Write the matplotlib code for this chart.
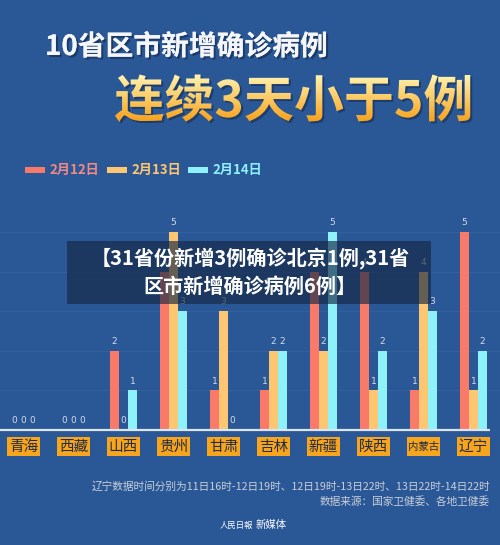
import numpy as np
import matplotlib.pyplot as plt
import matplotlib.patheffects as pe
from matplotlib.patches import Rectangle, PathPatch
from matplotlib.textpath import TextPath
from matplotlib.font_manager import FontProperties
from matplotlib.transforms import Affine2D

plt.rcParams['font.family'] = ['Noto Sans CJK SC', 'DejaVu Sans']

# data
provinces = ['青海', '西藏', '山西', '贵州', '甘肃', '吉林', '新疆', '陕西', '内蒙古', '辽宁']
feb12 = [0, 0, 2, 4, 1, 1, 4, 4, 1, 5]
feb13 = [0, 0, 0, 5, 3, 2, 2, 1, 4, 1]
feb14 = [0, 0, 1, 3, 0, 2, 5, 2, 3, 2]
series_names = ['2月12日', '2月13日', '2月14日']

bg = '#2a5796'
colors = ['#f97a68', '#fdc670', '#8ef2fb']
label_col = '#d5dbe3'

W, H = 500, 545
fig = plt.figure(figsize=(W / 100, H / 100), dpi=100, facecolor=bg)

# chart axes: baseline at 430px, 39.6px per unit, group spacing 50px
unit = 39.6
ymax = 6
ax_h = ymax * unit
ax = fig.add_axes([0, 1 - 430 / H, 1, ax_h / H])
ax.set_facecolor('none')
ax.set_xlim(-23.5 / 50, (W - 23.5) / 50)
ax.set_ylim(0, ymax)
for s in ax.spines.values():
    s.set_visible(False)
ax.set_xticks([])
ax.set_yticks([])

# faint grid
for v in range(1, 6):
    ax.axhline(v, color='#335f9d', lw=0.8, zorder=0)

x = np.arange(len(provinces))
bw = 0.18
for k, vals in enumerate([feb12, feb13, feb14]):
    xs = x + (k - 1) * bw
    ax.bar(xs, vals, width=bw, color=colors[k], zorder=2)
    for xi, v in zip(xs, vals):
        ax.text(xi, v + 0.12, str(v), ha='center', va='bottom', fontsize=6.5,
                color=label_col, family='DejaVu Sans', zorder=3)

# baseline
ax.plot([-0.47, (490 - 23.5) / 50], [0, 0], color='#dce6f2', lw=1.6,
        solid_capstyle='butt', zorder=3, clip_on=False)

# category boxes
tr = ax.get_xaxis_transform()
y0 = -26 / ax_h
hb = 19 / ax_h
for i, name in enumerate(provinces):
    ax.add_patch(Rectangle((i - 0.335, y0), 0.67, hb, transform=tr,
                           facecolor='#f6a51d', edgecolor='none', clip_on=False))
    fs = 7.5 if len(name) > 2 else 10.5
    ax.text(i, y0 + hb / 2, name, transform=tr, ha='center', va='center',
            fontsize=fs, color='#222c45', clip_on=False)

# overlay in pixel coordinates
ov = fig.add_axes([0, 0, 1, 1], zorder=5)
ov.set_facecolor('none')
ov.set_xlim(0, W)
ov.set_ylim(H, 0)
ov.axis('off')

# title line 1
ov.text(45, 47, '10省区市新增确诊病例', fontsize=20, fontweight='bold', color='#f4f6fa',
        va='center', ha='left',
        path_effects=[pe.withSimplePatchShadow(offset=(1.5, -1.5), shadow_rgbFace='#0d1e3a', alpha=0.5),
                      pe.Normal()])

# title line 2 with gradient fill
fp = FontProperties(family='Noto Sans CJK SC', weight='bold')
tp = TextPath((0, 0), '连续3天小于5例', size=50, prop=fp)
ext = tp.get_extents()
tx, ty = 115 - ext.x0, 117
shadow_tr = Affine2D().scale(1, -1).translate(tx + 2, ty + 2) + ov.transData
ov.add_patch(PathPatch(tp, transform=shadow_tr, facecolor='#0d1e3a', edgecolor='none', alpha=0.45))
text_tr = Affine2D().scale(1, -1).translate(tx, ty) + ov.transData
clip = PathPatch(tp, transform=text_tr, facecolor='none', edgecolor='none')
ov.add_patch(clip)
grad = np.linspace(0, 1, 100)[:, None]
top_c = np.array([1.0, 0.96, 0.70])
bot_c = np.array([0.97, 0.63, 0.10])
img = top_c[None, None, :] * (1 - grad[..., None]) + bot_c[None, None, :] * grad[..., None]
img = np.repeat(img, 2, axis=1)
im = ov.imshow(img, extent=(110, 490, ty - ext.y0, ty - ext.y1), aspect='auto', zorder=2)
im.set_clip_path(clip)
ov.set_xlim(0, W)
ov.set_ylim(H, 0)

# legend
leg_x = [25, 107, 188]
for k, name in enumerate(series_names):
    ov.add_patch(Rectangle((leg_x[k], 167), 20, 6, facecolor=colors[k], edgecolor='none'))
    ov.text(leg_x[k] + 24, 170, name, fontsize=9.5, fontweight='bold', color=colors[k] if k else '#f08a85',
            va='center', ha='left')

# banner overlay
ov.add_patch(Rectangle((67, 241), 364, 63, facecolor='#162845', edgecolor='none', alpha=0.66, zorder=6))
ov.text(250, 259, '【31省份新增3例确诊北京1例,31省', fontsize=14.5, fontweight='bold',
        color='white', ha='center', va='center', zorder=7)
ov.text(250, 286, '区市新增确诊病例6例】', fontsize=14.5, fontweight='bold',
        color='white', ha='center', va='center', zorder=7)

# footer
foot_c = '#c9cfd8'
ov.text(490, 487, '辽宁数据时间分别为11日16时-12日19时、12日19时-13日22时、13日22时-14日22时',
        fontsize=7.7, color=foot_c, ha='right', va='center')
ov.text(490, 502, '数据来源：国家卫健委、各地卫健委', fontsize=7.7, color=foot_c, ha='right', va='center')
ov.text(220, 525, '人民日報', fontsize=6, color='white', ha='left', va='center', style='italic')
ov.text(256, 525, '新媒体', fontsize=7.5, color='white', ha='left', va='center')

fig.savefig('out.png', dpi=100, facecolor=bg)
